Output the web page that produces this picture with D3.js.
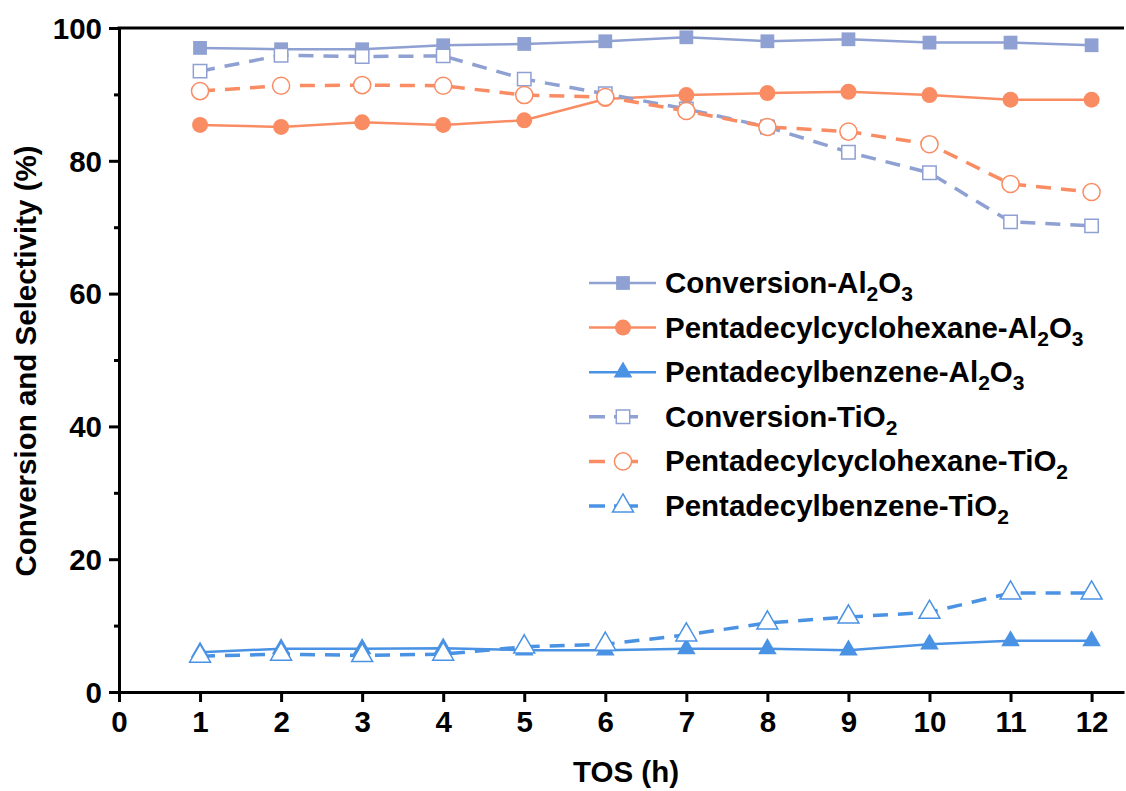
<!DOCTYPE html>
<html>
<head>
<meta charset="utf-8">
<script src="https://cdn.jsdelivr.net/npm/d3@7"></script>
<style>
  body { margin: 0; background: #fff; }
  text { font-family: "Liberation Sans", Arial, sans-serif; font-weight: bold; }
</style>
</head>
<body>
<svg id="chart" width="1126" height="791"></svg>
<script>
let tos = [1, 2, 3, 4, 5, 6, 7, 8, 9, 10, 11, 12];

let convAl = [97.0, 96.8, 96.8, 97.4, 97.6, 98.0, 98.6, 98.0, 98.3, 97.8, 97.8, 97.4];
let cycloAl = [85.4, 85.1, 85.8, 85.4, 86.1, 89.3, 89.9, 90.2, 90.4, 89.9, 89.2, 89.2];
let benzAl = [6.0, 6.5, 6.5, 6.6, 6.3, 6.3, 6.5, 6.5, 6.3, 7.2, 7.7, 7.7];
let convTi = [93.5, 95.9, 95.7, 95.8, 92.3, 90.1, 87.8, 85.1, 81.3, 78.2, 70.8, 70.2];
let cycloTi = [90.5, 91.3, 91.4, 91.3, 89.9, 89.6, 87.5, 85.1, 84.4, 82.5, 76.5, 75.3];
let benzTi = [5.4, 5.7, 5.5, 5.7, 6.8, 7.2, 8.6, 10.4, 11.3, 12.0, 14.9, 14.9];

let xTicks = [0, 1, 2, 3, 4, 5, 6, 7, 8, 9, 10, 11, 12];
let yTicks = [0, 20, 40, 60, 80, 100];
let yMinorTicks = [10, 30, 50, 70, 90];

let convColor = "#8fa0d2";
let cycloColor = "#f98c63";
let benzColor = "#4a92e3";
let textColor = "#000";

// name parts: [main, sub, main, sub]
let series = [
  { vals: convAl, color: convColor, shape: "square", open: false, name: ["Conversion-Al", "2", "O", "3"] },
  { vals: cycloAl, color: cycloColor, shape: "circle", open: false, name: ["Pentadecylcyclohexane-Al", "2", "O", "3"] },
  { vals: benzAl, color: benzColor, shape: "triangle", open: false, name: ["Pentadecylbenzene-Al", "2", "O", "3"] },
  { vals: convTi, color: convColor, shape: "square", open: true, name: ["Conversion-TiO", "2"] },
  { vals: cycloTi, color: cycloColor, shape: "circle", open: true, name: ["Pentadecylcyclohexane-TiO", "2"] },
  { vals: benzTi, color: benzColor, shape: "triangle", open: true, name: ["Pentadecylbenzene-TiO", "2"] }
];

let attr = { left: 119, right: 1124, top: 28, bottom: 692 };
let fontSize = 29.5;

let svg = d3.select("#chart");

let xScale = d3.scaleLinear()
  .domain([0, 12.4])
  .range([attr.left, attr.right]);

let yScale = d3.scaleLinear()
  .domain([0, 100])
  .range([attr.bottom, attr.top]);

let shapes = { square: d3.symbolSquare, circle: d3.symbolCircle, triangle: d3.symbolTriangle };
let sizes = { square: 190, circle: 200, triangle: 150 };
let openSizes = { square: 180, circle: 230, triangle: 190 };

function symbolPath(s) {
  return d3.symbol().type(shapes[s.shape]).size(s.open ? openSizes[s.shape] : sizes[s.shape])();
}

function styleMarker(sel, s) {
  sel.attr("d", symbolPath(s))
    .style("fill", s.open ? "#fff" : s.color)
    .style("stroke", s.open ? s.color : "none")
    .style("stroke-width", 1.5);
}

// axes
let xAxis = d3.axisBottom(xScale).tickValues(xTicks).tickSize(10).tickSizeOuter(0).tickPadding(9);
let gx = svg.append("g")
  .attr("transform", "translate(0," + attr.bottom + ")")
  .call(xAxis);

let yAxis = d3.axisLeft(yScale).tickValues(yTicks).tickSize(10).tickSizeOuter(0).tickPadding(7);
let gy = svg.append("g")
  .attr("transform", "translate(" + attr.left + ",0)")
  .call(yAxis);

let yMinor = d3.axisLeft(yScale).tickValues(yMinorTicks).tickSize(5).tickFormat("");
let gym = svg.append("g")
  .attr("transform", "translate(" + attr.left + ",0)")
  .call(yMinor);
gym.select(".domain").remove();

[gx, gy, gym].forEach(g => {
  g.selectAll("path, line").style("stroke", textColor).style("stroke-width", 3);
  g.selectAll("text").style("font-size", fontSize + "px").style("fill", textColor);
});
gx.selectAll("text").attr("dy", "0.72em");
gy.selectAll("text").attr("dy", "0.35em");

// top frame line
svg.append("line")
  .attr("x1", xScale(0) - 1.5)
  .attr("x2", xScale(12.4))
  .attr("y1", yScale(100))
  .attr("y2", yScale(100))
  .style("stroke", textColor)
  .style("stroke-width", 3);

// axis titles
svg.append("text")
  .attr("x", 626)
  .attr("y", 782)
  .text("TOS (h)")
  .style("text-anchor", "middle")
  .style("font-size", fontSize + "px")
  .style("fill", textColor);

svg.append("text")
  .attr("transform", "translate(36," + 361 + ") rotate(-90)")
  .text("Conversion and Selectivity (%)")
  .style("text-anchor", "middle")
  .style("font-size", fontSize + "px")
  .style("fill", textColor);

// lines
let line = d3.line()
  .x((d, i) => xScale(tos[i]))
  .y(d => yScale(d));

series.forEach(s => {
  svg.append("path")
    .datum(s.vals)
    .attr("d", line)
    .style("fill", "none")
    .style("stroke", s.color)
    .style("stroke-width", s.open ? 3.5 : 2.5)
    .style("stroke-dasharray", s.open ? "15,10" : null);
});

// markers
series.forEach(s => {
  svg.selectAll(null)
    .data(s.vals)
    .enter()
    .append("path")
      .attr("transform", (d, i) => "translate(" + xScale(tos[i]) + "," + yScale(d) + ")")
      .call(styleMarker, s);
});

// legend
let legendX = 589;
let legendY = 283;
let legendStep = 44.6;

series.forEach((s, i) => {
  let y = legendY + i * legendStep;
  svg.append("line")
    .attr("x1", legendX)
    .attr("x2", s.open ? legendX + 49 : legendX + 67)
    .attr("y1", y)
    .attr("y2", y)
    .style("stroke", s.color)
    .style("stroke-width", s.open ? 3.5 : 2.5)
    .style("stroke-dasharray", s.open ? "16,9,40" : null);
  svg.append("path")
    .attr("transform", "translate(" + (legendX + 34) + "," + y + ")")
    .call(styleMarker, s);

  let t = svg.append("text")
    .attr("x", legendX + 76)
    .attr("y", y + 10)
    .style("font-size", fontSize + "px")
    .style("fill", textColor);
  s.name.forEach((part, j) => {
    let isSub = j % 2 == 1;
    t.append("tspan")
      .text(part)
      .attr("dy", j == 0 ? 0 : (isSub ? 8 : -8))
      .style("font-size", isSub ? "21px" : fontSize + "px");
  });
});
</script>
</body>
</html>
